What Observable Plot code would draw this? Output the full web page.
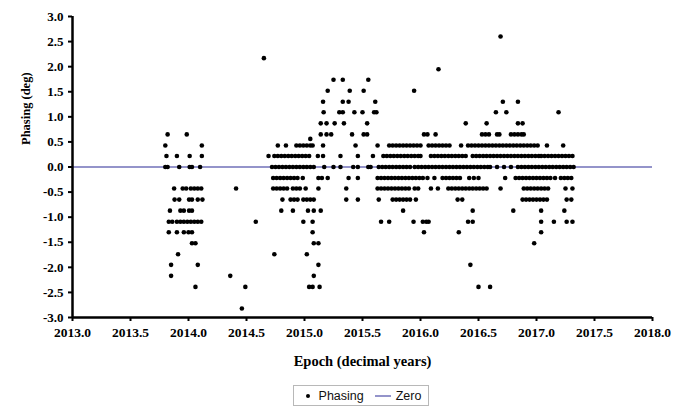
<!DOCTYPE html>
<html>
<head>
<meta charset="utf-8">
<script src="https://cdn.jsdelivr.net/npm/d3@7"></script>
<script src="https://cdn.jsdelivr.net/npm/@observablehq/plot@0.6"></script>
<style>
  html, body { margin: 0; padding: 0; background: #fff; }
  #wrap { position: relative; width: 683px; height: 409px; }
  #legend {
    position: absolute; left: 293px; top: 385px; width: 134px; height: 19px;
    border: 1px solid #b8b8b8; background: #fff;
    font-family: "Liberation Sans", Arial, sans-serif; font-size: 12.5px; color: #111;
    display: flex; align-items: center; justify-content: center; gap: 4px;
  }
  #legend svg { display: block; }
</style>
</head>
<body>
<div id="wrap">
  <div id="chart"></div>
  <div id="legend">
    <svg width="14" height="10"><circle cx="7" cy="5" r="2" fill="#000"></circle></svg>
    <span>Phasing</span>
    <svg width="18" height="10" style="margin-left:6px"><line x1="1" y1="5" x2="17" y2="5" stroke="#7070b8" stroke-width="1.5"></line></svg>
    <span>Zero</span>
  </div>
</div>
<script>
// Phase levels (deg) and the epochs (decimal years) of the points on each level
const phaseLevels = [2.60, 2.17, 1.95, 1.74, 1.52, 1.30, 1.09, 0.87, 0.65, 0.56, 0.43, 0.22, 0.00,
  -0.22, -0.43, -0.65, -0.87, -1.09, -1.30, -1.52, -1.74, -1.95, -2.17, -2.39, -2.82];

const epP260 = [2016.69];
const epP217 = [2014.65];
const epP195 = [2016.155];
const epP174 = [2015.25, 2015.33, 2015.55];
const epP152 = [2015.20, 2015.39, 2015.51, 2015.945];
const epP130 = [2015.16, 2015.33, 2015.38, 2015.61, 2016.71, 2016.84];
const epP109 = [2015.165, 2015.30, 2015.33, 2015.43, 2015.50, 2015.60, 2015.62, 2016.65, 2016.74, 2017.19];
const epP087 = [2015.14, 2015.19, 2015.26, 2015.34, 2015.54, 2016.39, 2016.57, 2016.84, 2016.88];
const epP065 = [2013.82, 2013.985, 2015.14, 2015.19, 2015.23, 2015.41, 2015.51, 2015.54,
  2016.03, 2016.06, 2016.13, 2016.53, 2016.56, 2016.59, 2016.66, 2016.68,
  2016.78, 2016.81, 2016.84, 2016.87, 2016.89];
const epP056 = [2015.05];
const epP043 = [2013.80, 2014.115, 2014.77, 2014.84, 2014.93, 2014.96, 2014.99, 2015.02, 2015.05, 2015.07,
  2015.16, 2015.44, 2015.63, 2015.73, 2015.76, 2015.79, 2015.82, 2015.85, 2015.88, 2015.91,
  2015.94, 2015.97, 2016.00, 2016.07, 2016.10, 2016.13, 2016.16, 2016.19, 2016.22, 2016.25, 2016.35,
  2016.41, 2016.44, 2016.47, 2016.50, 2016.53, 2016.56, 2016.59, 2016.62, 2016.65, 2016.68, 2016.71,
  2016.74, 2016.77, 2016.80, 2016.83, 2016.86, 2016.89, 2016.92, 2016.95, 2016.98, 2017.01, 2017.09, 2017.23];
const epP022 = [2013.81, 2013.90, 2014.01, 2014.115, 2014.69,
  2014.74, 2014.77, 2014.80, 2014.83, 2014.86, 2014.89, 2014.92, 2014.95, 2014.98, 2015.01, 2015.04,
  2015.115, 2015.16, 2015.31, 2015.46, 2015.59,
  2015.68, 2015.71, 2015.74, 2015.77, 2015.80, 2015.83, 2015.86, 2015.89, 2015.92, 2015.95, 2015.98, 2016.00,
  2016.09, 2016.12, 2016.15, 2016.18, 2016.21, 2016.24, 2016.27, 2016.30, 2016.33, 2016.36, 2016.39,
  2016.45, 2016.48, 2016.51, 2016.54, 2016.57, 2016.60, 2016.63, 2016.66, 2016.69, 2016.72, 2016.75,
  2016.78, 2016.81, 2016.84, 2016.87, 2016.90, 2016.93, 2016.96, 2016.99, 2017.02, 2017.04,
  2017.07, 2017.10, 2017.13, 2017.16, 2017.19, 2017.22, 2017.25, 2017.28, 2017.31];
const epP000 = [2013.80, 2013.82, 2013.92, 2014.01, 2014.03, 2014.10,
  2014.72, 2014.75, 2014.78, 2014.81, 2014.84, 2014.87, 2014.90, 2014.93, 2014.96, 2014.99, 2015.02, 2015.05, 2015.08,
  2015.17, 2015.25, 2015.31, 2015.42, 2015.46, 2015.55, 2015.57,
  2015.64, 2015.67, 2015.70, 2015.73, 2015.76, 2015.79, 2015.82, 2015.85, 2015.88, 2015.91,
  2015.95, 2015.98, 2016.01, 2016.04, 2016.07, 2016.10, 2016.13, 2016.16, 2016.19, 2016.22, 2016.25,
  2016.28, 2016.31, 2016.34, 2016.37, 2016.40, 2016.43, 2016.46, 2016.49, 2016.52, 2016.55, 2016.58, 2016.60,
  2016.66, 2016.72, 2016.78, 2016.84, 2016.87, 2016.90, 2016.93, 2016.96, 2016.99, 2017.02, 2017.05,
  2017.08, 2017.11, 2017.14, 2017.17, 2017.20, 2017.23, 2017.26, 2017.29, 2017.32];
const epM022 = [2014.73, 2014.76, 2014.79, 2014.82, 2014.85, 2014.88, 2014.91, 2014.94, 2014.985,
  2015.12, 2015.15, 2015.20, 2015.38, 2015.46,
  2015.63, 2015.66, 2015.69, 2015.72, 2015.75, 2015.78, 2015.81, 2015.84, 2015.87, 2015.90,
  2015.93, 2015.96, 2015.99, 2016.02, 2016.06, 2016.12, 2016.19, 2016.22, 2016.25, 2016.28, 2016.31, 2016.34,
  2016.42, 2016.46, 2016.50, 2016.73,
  2016.82, 2016.85, 2016.88, 2016.91, 2016.94, 2016.97, 2017.00, 2017.03, 2017.06, 2017.09, 2017.12,
  2017.16, 2017.21, 2017.24, 2017.27, 2017.30];
const epM043 = [2013.876, 2013.95, 2013.98, 2014.02, 2014.05, 2014.08, 2014.11, 2014.41,
  2014.73, 2014.76, 2014.79, 2014.82, 2014.85, 2014.90, 2014.93, 2014.96, 2015.01, 2015.12, 2015.36,
  2015.63, 2015.66, 2015.69, 2015.72, 2015.75, 2015.78, 2015.81, 2015.84, 2015.87, 2015.90,
  2015.95, 2015.98, 2016.09, 2016.15, 2016.24, 2016.27, 2016.30, 2016.33, 2016.36, 2016.39, 2016.42,
  2016.45, 2016.48, 2016.51, 2016.54, 2016.57, 2016.69,
  2016.89, 2016.92, 2016.95, 2016.98, 2017.01, 2017.04, 2017.07, 2017.10, 2017.25, 2017.31];
const epM065 = [2013.88, 2013.92, 2014.005, 2014.03, 2014.08, 2014.12,
  2014.81, 2014.88, 2014.91, 2014.94, 2014.99, 2015.02, 2015.05, 2015.08, 2015.36, 2015.46, 2015.64,
  2015.76, 2015.79, 2015.82, 2015.85, 2015.88, 2015.91, 2015.96, 2016.32, 2016.36,
  2016.88, 2016.91, 2016.94, 2016.97, 2017.00, 2017.03, 2017.06, 2017.09, 2017.26, 2017.30];
const epM087 = [2013.84, 2013.93, 2013.96, 2014.005, 2014.03,
  2014.80, 2014.90, 2015.03, 2015.08, 2015.14, 2015.85, 2016.45, 2016.80, 2017.04, 2017.24];
const epM109 = [2013.83, 2013.86, 2013.90, 2013.93, 2013.96, 2013.99, 2014.02, 2014.05, 2014.08, 2014.11,
  2014.58, 2014.99, 2015.07, 2015.66, 2015.73, 2015.94, 2016.02, 2016.05, 2016.07, 2016.41, 2016.45,
  2017.04, 2017.15, 2017.26, 2017.31];
const epM130 = [2013.83, 2013.90, 2013.96, 2014.00, 2014.03, 2015.07, 2016.03, 2016.33, 2017.04];
const epM152 = [2014.03, 2014.06, 2015.08, 2015.12, 2016.98];
const epM174 = [2013.91, 2014.74, 2015.02];
const epM195 = [2013.85, 2014.08, 2015.12, 2016.43];
const epM217 = [2013.85, 2014.36, 2015.08];
const epM239 = [2014.06, 2014.49, 2015.04, 2015.07, 2015.13, 2016.50, 2016.60];
const epM282 = [2014.46];

const epochRows = [epP260, epP217, epP195, epP174, epP152, epP130, epP109, epP087, epP065, epP056, epP043,
  epP022, epP000, epM022, epM043, epM065, epM087, epM109, epM130, epM152, epM174, epM195, epM217, epM239, epM282];

// Axis ticks
const xTicks = [2013.0, 2013.5, 2014.0, 2014.5, 2015.0, 2015.5, 2016.0, 2016.5, 2017.0, 2017.5, 2018.0];
const yTicks = [-3.0, -2.5, -2.0, -1.5, -1.0, -0.5, 0.0, 0.5, 1.0, 1.5, 2.0, 2.5, 3.0];
const zeroLine = [0];
const xTitle = "Epoch (decimal years)";
const yTitle = "Phasing (deg)";

const points = epochRows.flatMap((row, i) => row.map(e => ({epoch: e, phase: phaseLevels[i]})));
const zeroColor = "#7070b8";
const serifFont = "'Liberation Serif', 'Times New Roman', serif";

const chart = Plot.plot({
  width: 683,
  height: 375,
  marginLeft: 72,
  marginRight: 31,
  marginTop: 16,
  marginBottom: 58,
  x: {domain: [2013, 2018]},
  y: {domain: [-3, 3]},
  style: {
    fontWeight: "bold",
    fontSize: "13px",
    background: "#fff",
    color: "#000"
  },
  marks: [
    Plot.ruleY(zeroLine, {stroke: zeroColor, strokeWidth: 1.6}),
    Plot.dot(points, {x: "epoch", y: "phase", r: 2.3, fill: "#000", stroke: "none"}),
    Plot.ruleX([xTicks[0]], {stroke: "#000", strokeWidth: 2.5}),
    Plot.ruleY([yTicks[0]], {stroke: "#000", strokeWidth: 2.5}),
    Plot.axisX({ticks: xTicks, tickFormat: d => d.toFixed(1), tickSize: 4, tickPadding: 6,
      strokeWidth: 2, label: null, fontSize: 13.5}),
    Plot.axisY({ticks: yTicks, tickFormat: d => d.toFixed(1), tickSize: 4, tickPadding: 5,
      strokeWidth: 2, label: null, fontSize: 13}),
    Plot.text([xTitle], {frameAnchor: "bottom", dy: 48, fontSize: 14.5, fontWeight: "bold"}),
    Plot.text([yTitle], {frameAnchor: "left", dx: -47, dy: -22, rotate: -90, fontSize: 12.5, fontWeight: "bold"})
  ]
});
chart.setAttribute("font-family", serifFont);
chart.style.fontFamily = serifFont;
d3.select(chart).selectAll("g").attr("font-family", serifFont).style("font-family", serifFont);
d3.select(chart).selectAll("text").attr("font-family", serifFont).style("font-family", serifFont).style("font-weight", "bold");
document.getElementById("chart").appendChild(chart);
</script>
</body>
</html>
